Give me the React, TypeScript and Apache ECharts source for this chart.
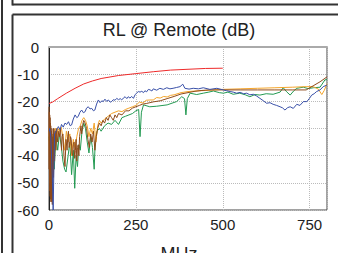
import React, { useEffect, useRef } from "react";
import * as echarts from "echarts";

const FONT = "'Liberation Sans', Arial, Helvetica, sans-serif";

const title = "RL @ Remote (dB)";
const xName = "MHz";
const xTicks = [0, 250, 500, 750];
const yTicks = [-60, -50, -40, -30, -20, -10, 0];

const redFreq = [0, 10, 25, 50, 75, 100, 125, 150, 200, 250, 300, 350, 400, 450, 500];
const redDb = [-20.8, -20.3, -19.0, -17.0, -15.2, -13.6, -12.5, -11.6, -10.5, -9.8, -9.1, -8.5, -8.2, -7.9, -7.8];

const blueFreq = [
  1, 2, 5, 8, 10, 12, 14, 16, 20, 24, 27, 32, 36, 41, 46, 51, 56, 61, 65, 70, 75, 80, 84, 89, 94, 99,
  104, 108, 113, 118, 123, 128, 132, 137, 142, 147, 152, 156, 161, 166, 171, 176, 180, 185, 190, 195,
  200, 205, 209, 214, 219, 224, 228, 233, 238, 243, 248, 252, 257, 262, 267, 272, 276, 281, 286, 291,
  296, 300, 310, 319, 329, 339, 348, 357, 367, 377, 385, 391, 403, 415, 430, 444, 463, 483, 502, 511,
  521, 530, 540, 550, 560, 569, 578, 588, 597, 607, 617, 626, 636, 645, 655, 665, 672, 679, 687, 694,
  703, 713, 722, 732, 742, 749, 756, 763, 770, 780, 789, 800,
];
const blueDb = [
  -31, -30, -33, -42, -50, -60, -45, -32, -31, -30, -29.3, -30.5, -28.5, -29.5, -28, -28.5, -27.5, -29,
  -28.7, -26.5, -25, -26, -25.6, -24, -23.2, -24.2, -23.8, -22.5, -22, -22.8, -22.6, -23.5, -23.2, -21,
  -19.5, -20.5, -19.8, -20.1, -19.2, -20, -19.5, -20.3, -20.1, -19.4, -19.6, -18.9, -19.4, -19, -19.5,
  -18.8, -18.3, -19, -18.3, -18.8, -18.2, -18.9, -17.5, -17, -16.4, -16.6, -16.3, -16.8, -16.1, -16.5,
  -15.6, -15.8, -16.2, -15.4, -15.9, -15.2, -15.6, -15.0, -15.4, -15.2, -14.9, -14.6, -13.7, -15.2, -15.5,
  -15.2, -15.4, -15.0, -15.6, -15.2, -15.8, -16.1, -16.4, -16.6, -17.0, -16.7, -17.2, -17.0, -17.6, -17.4,
  -18.0, -18.9, -19.8, -20.7, -20.5, -21.1, -21.5, -22.0, -22.4, -23.2, -22.3, -22.0, -22.6, -21.1, -21.5,
  -20.1, -20.1, -19.0, -17.7, -17.2, -16.4, -15.8, -14.6, -14.0,
];

const orangeFreq = [
  0, 2, 3, 5, 6, 8, 9, 11, 12, 15, 18, 22, 26, 30, 35, 40, 45, 50, 55, 60, 65, 70, 75, 80, 85, 90, 95,
  100, 105, 110, 115, 120, 125, 130, 135, 140, 145, 150, 160, 170, 180, 190, 200, 210, 220, 230, 240,
  250, 260, 270, 280, 290, 300, 310, 320, 330, 340, 350, 360, 380, 400, 420, 450, 500, 550, 600, 650,
  700, 740, 760, 775, 785, 792, 800,
];
const orangeDb = [
  -30, -48, -38, -50, -33, -44, -45, -36, -32, -35, -30, -33, -30, -31, -29.5, -33, -38, -31, -35, -32,
  -40, -34, -37, -33, -30, -29, -27, -26, -27, -29, -33, -30, -32, -28, -35, -29, -27, -28, -26.5, -25.5,
  -24.5, -24, -23.5, -23.8, -23, -22.5, -22, -21.5, -20.3, -20.6, -19.6, -19.5, -19.5, -18.6, -18.8,
  -18.2, -18.4, -17.8, -17.6, -16.8, -16.4, -16.2, -16, -15.6, -15.4, -15.2, -15, -14.8, -14.6, -14.6,
  -15.5, -17.5, -16, -13.5,
];

const brownFreq = [
  0, 0.5, 1, 1.5, 2, 2.5, 3, 3.5, 4, 4.5, 5, 5.5, 6, 6.5, 7, 7.5, 8, 8.5, 9, 9.5, 10, 10.5, 11, 12, 13,
  14, 16, 18, 20, 22, 25, 28, 30, 33, 36, 38, 40, 43, 46, 49, 52, 54, 56, 58, 60, 62, 64, 66, 68, 70, 72,
  74, 76, 78, 80, 82, 84, 86, 88, 90, 92, 94, 96, 98, 100, 104, 108, 112, 116, 120, 124, 128, 132, 136,
  140, 145, 150, 155, 160, 165, 170, 175, 180, 185, 190, 195, 200, 210, 220, 230, 240, 250, 260, 270,
  280, 290, 300, 320, 340, 360, 380, 400, 420, 440, 460, 500, 550, 600, 650, 700, 740, 760, 780, 800,
];
const brownDb = [
  -22, -45, -24, -50, -25, -53, -26, -55, -28, -56, -29, -57, -30, -55, -31, -56, -32, -57, -33, -58,
  -35, -54, -52, -30, -48, -30, -42, -31, -38, -30, -35, -31, -33, -30, -38, -33, -32, -40, -44, -34,
  -38, -33, -31, -37, -36, -33, -34, -39, -40, -36, -35, -41, -38, -34, -42, -37, -36, -40, -33, -31,
  -29, -32, -30, -28, -27, -28, -30, -34, -37, -32, -35, -31, -38, -33, -30, -28, -29, -27, -28, -26,
  -27, -25, -26, -27, -25, -26, -24.5, -25, -23.5, -23.5, -22.5, -22, -21.5, -21, -20.8, -20.5, -20.2,
  -19.8, -19, -18.2, -17.3, -16.8, -16.3, -16, -15.8, -15.8, -15.8, -15.8, -15.8, -15.8, -15.8, -14.3,
  -12.8, -11,
];

const greenFreq = [
  0, 5, 10, 15, 20, 25, 30, 35, 40, 45, 49, 55, 60, 65, 70, 74, 78, 82, 86, 90, 95, 100, 105, 110, 115,
  120, 125, 130, 133, 138, 145, 150, 160, 170, 180, 190, 200, 210, 220, 230, 240, 250, 258, 262, 266,
  272, 290, 310, 340, 367, 382, 390, 394, 398, 406, 425, 444, 460, 473, 490, 502, 515, 530, 549, 565,
  578, 593, 607, 625, 645, 665, 674, 684, 694, 704, 713, 732, 745, 761, 780, 794, 800,
];
const greenDb = [
  -33, -40, -35, -45, -33, -38, -32, -36, -42, -45, -46, -40, -35, -47, -38, -52, -40, -44, -36, -38,
  -31, -28, -30, -35, -39, -33, -37, -45, -35, -31, -30, -31, -29, -28, -28.5, -27, -28.5, -26, -25.5,
  -25, -24.5, -23.5, -23, -33, -24, -21.3, -22, -21.8, -21.3, -20.1, -18.3, -19, -25, -19, -17, -17.5,
  -17, -16.6, -16.2, -16.8, -17, -16.6, -17.4, -17, -17.6, -18.3, -17.5, -17.7, -17.2, -17.4, -16.6,
  -15, -16.5, -17.7, -16.2, -15.2, -14.8, -15.3, -15, -14.8, -12.1, -12,
];

const zip = (xs: number[], ys: number[]) => xs.map((x, i) => [x, ys[i]]);

export default function App() {
  const ref = useRef<HTMLDivElement>(null);
  useEffect(() => {
    document.body.style.margin = "0";
    if (!ref.current) return;
    const chart = echarts.init(ref.current, null, { renderer: "svg" });
    const frame = { stroke: "#333", lineWidth: 2 };
    const mk = (name: string, color: string, data: number[][], z: number) => ({
      name,
      type: "line",
      data,
      symbol: "none",
      smooth: false,
      z,
      lineStyle: { color, width: 1 },
      itemStyle: { color },
    });
    chart.setOption({
      animation: false,
      textStyle: { fontFamily: FONT },
      grid: {
        left: 49,
        top: 47,
        width: 278,
        height: 163,
        show: true,
        borderColor: "#444",
        borderWidth: 1,
        backgroundColor: "transparent",
      },
      xAxis: {
        type: "value",
        min: xTicks[0],
        max: 800,
        interval: 250,
        axisLine: { show: true, lineStyle: { color: "#aaa", width: 2 } },
        axisTick: { show: false },
        axisLabel: { fontSize: 15, color: "#222", margin: 7, showMaxLabel: false, fontFamily: FONT },
        splitLine: { show: true, lineStyle: { color: "#bbb", type: "dotted", width: 1 } },
      },
      yAxis: {
        type: "value",
        min: yTicks[0],
        max: yTicks[yTicks.length - 1],
        interval: 10,
        axisLine: { show: true, lineStyle: { color: "#222", width: 1 } },
        axisTick: { show: false },
        axisLabel: { fontSize: 15, color: "#222", margin: 10, fontFamily: FONT },
        splitLine: { show: true, lineStyle: { color: "#bbb", type: "dotted", width: 1 } },
      },
      series: [
        mk("Green", "#239a52", zip(greenFreq, greenDb), 2),
        mk("Orange", "#f5a52a", zip(orangeFreq, orangeDb), 3),
        mk("Brown", "#8e4a1a", zip(brownFreq, brownDb), 4),
        mk("Blue", "#3950a8", zip(blueFreq, blueDb), 5),
        mk("Red", "#ee2a2a", zip(redFreq, redDb), 6),
      ],
      graphic: [
        { type: "line", shape: { x1: 2, y1: 0, x2: 2, y2: 253 }, style: frame },
        { type: "line", shape: { x1: 12.5, y1: 0, x2: 12.5, y2: 5.5 }, style: frame },
        { type: "line", shape: { x1: 12.5, y1: 4.5, x2: 338, y2: 4.5 }, style: frame },
        { type: "line", shape: { x1: 12.5, y1: 14.5, x2: 338, y2: 14.5 }, style: frame },
        { type: "line", shape: { x1: 12.5, y1: 14.5, x2: 12.5, y2: 253 }, style: frame },
        {
          type: "text",
          x: 179,
          y: 21,
          style: { text: title, fontSize: 18, fontFamily: FONT, fill: "#222", textAlign: "center", textVerticalAlign: "top" },
        },
        {
          type: "text",
          x: 179,
          y: 245,
          style: { text: xName, fontSize: 18, fontFamily: FONT, fill: "#222", textAlign: "center", textVerticalAlign: "top" },
        },
      ],
    });
    return () => chart.dispose();
  }, []);
  return <div ref={ref} style={{ width: 338, height: 253 }} />;
}
